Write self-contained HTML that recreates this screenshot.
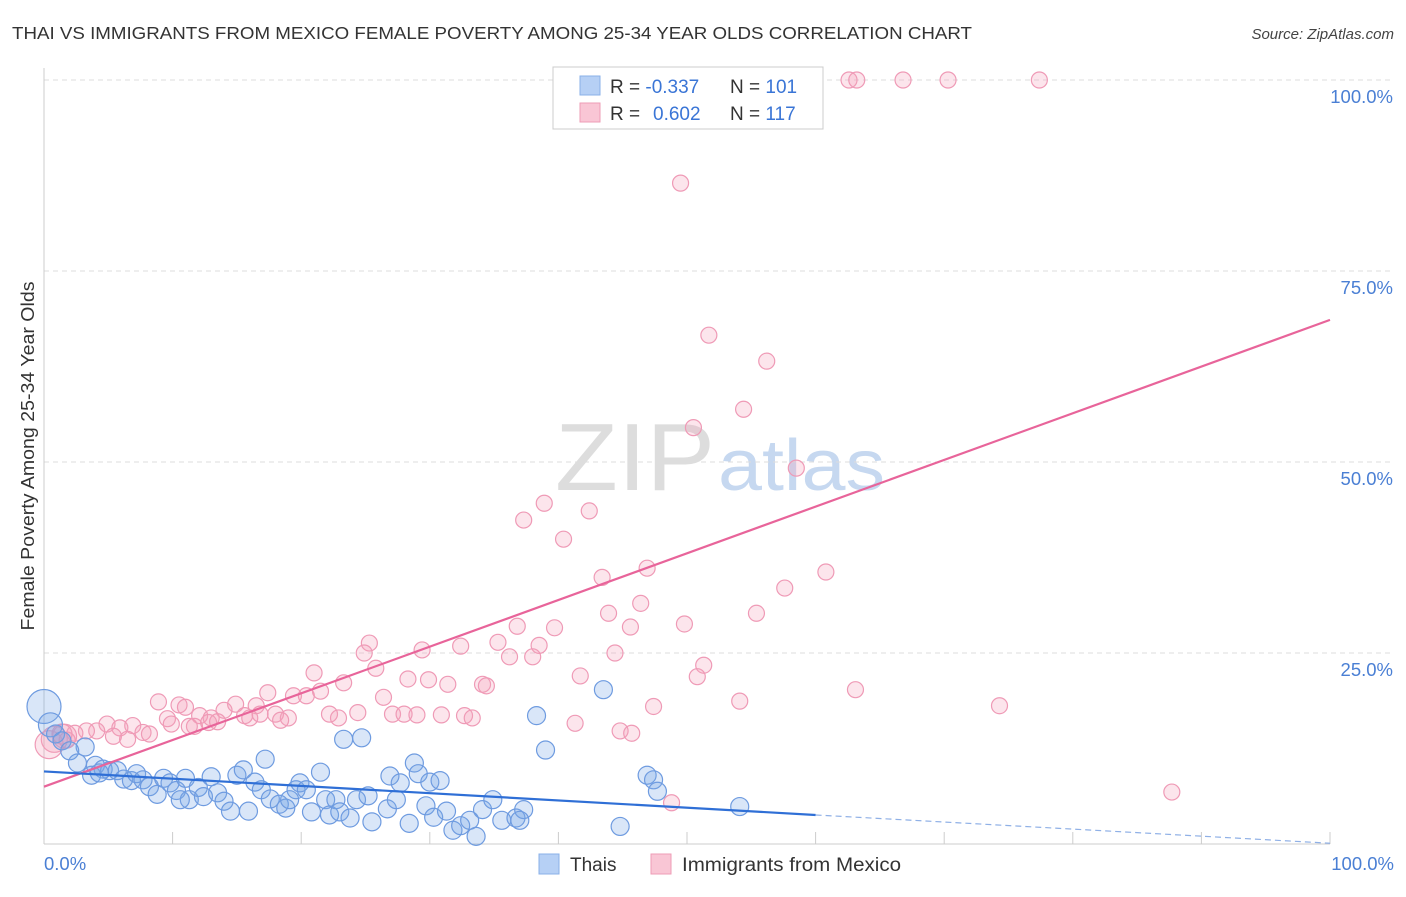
<!DOCTYPE html>
<html><head><meta charset="utf-8"><style>
body{margin:0;background:#fff;font-family:"Liberation Sans",sans-serif}
svg text{font-family:"Liberation Sans",sans-serif}
</style></head><body>
<svg id="chart" width="1406" height="892" xmlns="http://www.w3.org/2000/svg">
<text x="12" y="39" font-size="17.5" fill="#333" textLength="960" lengthAdjust="spacingAndGlyphs">THAI VS IMMIGRANTS FROM MEXICO FEMALE POVERTY AMONG 25-34 YEAR OLDS CORRELATION CHART</text>
<text x="1394" y="39" font-size="15" font-style="italic" fill="#444" text-anchor="end">Source: ZipAtlas.com</text>
<g>
<text x="555" y="490" font-size="96" font-family="Liberation Serif,serif" fill="#ddd" textLength="160" lengthAdjust="spacingAndGlyphs">ZIP</text>
<text x="718" y="490" font-size="72" fill="#c6d8f0" textLength="167" lengthAdjust="spacingAndGlyphs">atlas</text>
</g>
<g id="grid"></g>
<g id="axes"></g>
<g id="pink"></g>
<g id="blue"></g>
<g id="lines"></g>
<text transform="translate(34,456) rotate(-90)" font-size="18" fill="#333" text-anchor="middle" textLength="349" lengthAdjust="spacingAndGlyphs">Female Poverty Among 25-34 Year Olds</text>
<text x="44" y="870" font-size="18.5" fill="#4a7fd4">0.0%</text>
<text x="1394" y="870" font-size="18.5" fill="#4a7fd4" text-anchor="end">100.0%</text>
<g>
<rect x="553" y="67" width="270" height="62" fill="#fff" stroke="#ccc"/>
<rect x="580" y="76" width="20" height="19" fill="#b6d0f5" stroke="#8ab0e8"/>
<rect x="580" y="103" width="20" height="19" fill="#f9c6d5" stroke="#ee9cb6"/>
<text x="610" y="93" font-size="19" fill="#333">R = <tspan fill="#3a75d6">-0.337</tspan></text>
<text x="730" y="93" font-size="19" fill="#333">N = <tspan fill="#3a75d6">101</tspan></text>
<text x="610" y="120" font-size="19" fill="#333">R = <tspan fill="#3a75d6" x="653">0.602</tspan></text>
<text x="730" y="120" font-size="19" fill="#333">N = <tspan fill="#3a75d6">117</tspan></text>
</g>
<g>
<rect x="539" y="854" width="20" height="20" fill="#b6d0f5" stroke="#8ab0e8"/>
<text x="570" y="871" font-size="19" fill="#333">Thais</text></g>
<g>
<rect x="651" y="854" width="20" height="20" fill="#f9c6d5" stroke="#ee9cb6"/>
<text x="682" y="871" font-size="19" fill="#333" textLength="219" lengthAdjust="spacingAndGlyphs">Immigrants from Mexico</text></g>
</svg>
<script>
const yTicks=[25,50,75,100];
const yTickLabels=["25.0%","50.0%","75.0%","100.0%"];
const xTicks=[10,20,30,40,50,60,70,80,90,100];
const pinkX=[62.6,63.2,66.8,70.3,77.4,49.5,51.7,56.2,54.4,50.5,58.5,38.9,37.3,42.4,40.4,43.4,46.9,60.8,57.6,46.4,43.9,55.4,49.8,45.6,36.8,39.7,35.3,38.5,32.4,44.4,36.2,29.4,25.3,24.9,38.0,51.3,25.8,50.8,41.7,21.0,28.3,29.9,23.3,34.1,31.4,34.4,21.5,17.4,19.4,20.4,26.4,63.1,54.1,74.3,47.4,14.9,16.5,14.0,12.1,18.0,19.0,22.2,22.9,24.4,27.1,28.0,29.0,30.9,32.7,33.3,10.5,8.9,11.0,9.6,13.0,15.6,16.0,16.8,18.4,11.7,9.9,11.3,12.8,13.5,41.3,44.8,45.7,6.9,4.9,5.9,4.1,3.3,2.4,7.7,8.2,5.4,6.5,1.6,0.8,0.4,1.8,48.8,87.7,1.4];
const pinkY=[100,100,100,100,100,86.5,66.6,63.2,56.9,54.5,49.2,44.6,42.4,43.6,39.9,34.9,36.1,35.6,33.5,31.5,30.2,30.2,28.8,28.4,28.5,28.3,26.4,26.0,25.9,25.0,24.5,25.4,26.3,25.0,24.5,23.4,23.0,21.9,22.0,22.4,21.6,21.5,21.1,20.9,20.9,20.7,20.0,19.8,19.4,19.4,19.2,20.2,18.7,18.1,18.0,18.3,18.1,17.5,16.8,17.0,16.5,17.0,16.5,17.2,17.0,17.0,16.9,16.9,16.8,16.5,18.2,18.6,17.9,16.4,16.5,16.8,16.5,17.0,16.2,15.4,15.7,15.4,15.9,16.0,15.8,14.8,14.5,15.5,15.7,15.2,14.8,14.8,14.5,14.6,14.4,14.1,13.7,14.1,13.7,13.0,13.6,5.4,6.8,14.4];
const pinkR=[8,8,8,8,8,8,8,8,8,8,8,8,8,8,8,8,8,8,8,8,8,8,8,8,8,8,8,8,8,8,8,8,8,8,8,8,8,8,8,8,8,8,8,8,8,8,8,8,8,8,8,8,8,8,8,8,8,8,8,8,8,8,8,8,8,8,8,8,8,8,8,8,8,8,8,8,8,8,8,8,8,8,8,8,8,8,8,8,8,8,8,8,8,8,8,8,8,12,13,14,8,8,8,10];
const blueX=[0,0.5,0.9,1.4,3.2,2.0,2.6,4.0,4.6,5.1,3.7,4.3,5.7,6.2,6.8,7.2,7.7,8.2,8.8,9.3,9.8,10.3,11.0,11.3,12.0,12.4,13.0,13.5,14.0,14.5,15.0,15.5,15.9,16.4,16.9,17.2,17.6,18.3,18.8,19.1,19.6,19.9,20.4,20.8,21.5,21.9,22.2,22.7,23.0,23.3,23.8,24.3,24.7,25.2,25.5,26.7,26.9,27.4,27.7,28.4,28.8,29.1,30.0,29.7,30.3,30.8,31.3,31.8,32.4,33.1,33.6,34.1,34.9,35.6,36.7,37.3,38.3,39.0,43.5,44.8,46.9,47.4,47.7,54.1,37.0,10.6];
const blueY=[18.0,15.6,14.4,13.5,12.7,12.2,10.6,10.3,9.8,9.6,9.0,9.3,9.6,8.5,8.3,9.2,8.4,7.5,6.5,8.6,8.0,7.0,8.6,5.8,7.4,6.2,8.8,6.7,5.6,4.3,9.0,9.7,4.3,8.1,7.1,11.1,5.9,5.2,4.7,5.8,7.1,8.0,7.1,4.2,9.4,5.8,3.8,5.8,4.2,13.7,3.4,5.8,13.9,6.3,2.9,4.6,8.9,5.8,8.0,2.7,10.6,9.2,8.1,5.0,3.5,8.3,4.3,1.8,2.4,3.1,1.0,4.5,5.8,3.1,3.4,4.5,16.8,12.3,20.2,2.3,9.0,8.4,6.9,4.9,3.1,5.8];
const blueR=[17,12,9,9,9,9,9,9,9,9,9,9,9,9,9,9,9,9,9,9,9,9,9,9,9,9,9,9,9,9,9,9,9,9,9,9,9,9,9,9,9,9,9,9,9,9,9,9,9,9,9,9,9,9,9,9,9,9,9,9,9,9,9,9,9,9,9,9,9,9,9,9,9,9,9,9,9,9,9,9,9,9,9,9,9,9];
const pinkTrend=[7.5,68.6];
const blueTrend=[9.5,3.8,0.1];
const NS="http://www.w3.org/2000/svg";
const X=v=>44+v*12.86, Y=v=>844-v*7.64;
function mk(tag,parent,attrs){const e=document.createElementNS(NS,tag);for(const k in attrs)e.setAttribute(k,attrs[k]);document.getElementById(parent).appendChild(e);return e;}
yTicks.forEach((t,i)=>{
 const g=mk('line','grid',{x1:44,x2:1394,y1:Y(t),y2:Y(t),stroke:'#ddd','stroke-dasharray':'5,4'});
 
 
 const tx=mk('text','grid',{x:1393,y:Y(t)+23,'font-size':18.5,fill:'#4a7fd4','text-anchor':'end'});
 tx.textContent=yTickLabels[i];
 
 
});
const ax=mk('line','axes',{x1:44,x2:44,y1:68,y2:844,stroke:'#ccc'});


const bx=mk('line','axes',{x1:44,x2:1330,y1:844,y2:844,stroke:'#ccc'});


xTicks.forEach(t=>{const l=mk('line','axes',{x1:X(t),x2:X(t),y1:832,y2:844,stroke:'#ccc'});
 
 });
pinkX.forEach((v,i)=>{const c=mk('circle','pink',{cx:X(v),cy:Y(pinkY[i]),r:pinkR[i],fill:'rgba(244,160,188,0.28)',stroke:'#ef9ab6','stroke-width':1.2});
 
 });
blueX.forEach((v,i)=>{const c=mk('circle','blue',{cx:X(v),cy:Y(blueY[i]),r:blueR[i],fill:'rgba(120,165,230,0.28)',stroke:'#6e9be0','stroke-width':1.2});
 
 });
const pl=mk('line','lines',{x1:X(0),y1:Y(pinkTrend[0]),x2:X(100),y2:Y(pinkTrend[1]),stroke:'#e8649a','stroke-width':2.2});


const bl=mk('line','lines',{x1:X(0),y1:Y(blueTrend[0]),x2:X(60),y2:Y(blueTrend[1]),stroke:'#2f6fd6','stroke-width':2.2});


const bd=mk('line','lines',{x1:X(60),y1:Y(blueTrend[1]),x2:X(100),y2:Y(blueTrend[2]),stroke:'#8fb0e6','stroke-width':1.2,'stroke-dasharray':'6,4'});


</script>
</body></html>
